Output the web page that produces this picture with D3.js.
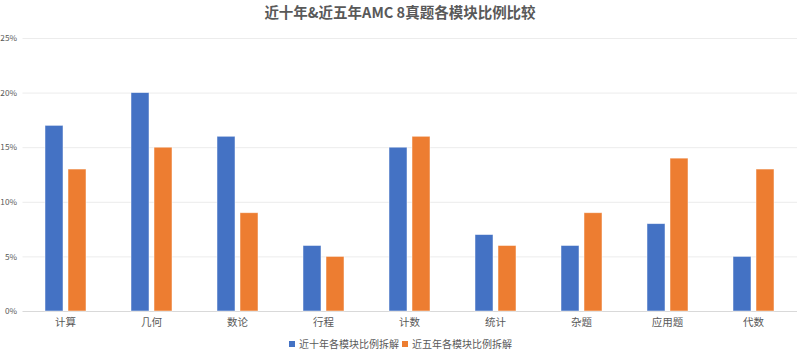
<!DOCTYPE html>
<html>
<head>
<meta charset="utf-8">
<script src="https://cdn.jsdelivr.net/npm/d3@7"></script>
<style>
  html, body { margin: 0; padding: 0; background: #fff; }
  svg { display: block; font-family: "Noto Sans CJK SC", "Noto Sans", sans-serif; }
</style>
</head>
<body>
<svg id="chart" width="800" height="356"></svg>
<script>
const title = "近十年&近五年AMC 8真题各模块比例比较";
const categories = ["计算", "几何", "数论", "行程", "计数", "统计", "杂题", "应用题", "代数"];
const seriesNames = ["近十年各模块比例拆解", "近五年各模块比例拆解"];
const tenYear = [17, 20, 16, 6, 15, 7, 6, 8, 5];
const fiveYear = [13, 15, 9, 5, 16, 6, 9, 14, 13];
const yTicks = [0, 5, 10, 15, 20, 25];
const colors = ["#4472C4", "#ED7D31"];

const svg = d3.select("#chart");
const plotLeft = 22.5, plotRight = 796.5, plotTop = 38, plotBottom = 311;

const y = d3.scaleLinear().domain([0, 25]).range([plotBottom, plotTop]);
const x0 = d3.scaleBand().domain(categories).range([plotLeft, plotRight])
  .paddingInner(45 / 86).paddingOuter(45 / 172);
const x1 = d3.scaleBand().domain(seriesNames).range([0, x0.bandwidth()])
  .paddingInner(2 - 41 / 23).paddingOuter(0);

// title
svg.append("text")
  .attr("x", 400).attr("y", 18)
  .attr("text-anchor", "middle")
  .attr("font-size", 14.5).attr("font-weight", "bold")
  .attr("fill", "#595959")
  .text(title);

// gridlines
const yAxis = d3.axisLeft(y).tickValues(yTicks).tickSize(-(plotRight - plotLeft + 0.5)).tickFormat(d => d + "%");
const gy = svg.append("g").attr("transform", `translate(${plotLeft},0)`).call(yAxis);
gy.select(".domain").remove();
gy.selectAll(".tick line").attr("stroke", d => d === 0 ? "#d9d9d9" : "#ececec").attr("stroke-width", 1);
gy.selectAll(".tick text")
  .attr("x", -5.5).attr("font-size", 8.2).attr("fill", "#595959")
  .attr("font-family", "'Noto Sans CJK SC', 'Noto Sans', sans-serif");

// bars
const data = categories.map((c, i) => ({ cat: c, vals: [tenYear[i], fiveYear[i]] }));
const groups = svg.append("g").selectAll("g").data(data).join("g")
  .attr("transform", d => `translate(${x0(d.cat)},0)`);
groups.selectAll("rect").data(d => d.vals.map((v, j) => ({ name: seriesNames[j], v, j })))
  .join("rect")
  .attr("x", d => x1(d.name))
  .attr("width", x1.bandwidth())
  .attr("y", d => y(d.v))
  .attr("height", d => y(0) - y(d.v))
  .attr("fill", d => colors[d.j])
  .attr("stroke", "#ffffff").attr("stroke-opacity", 0.6).attr("stroke-width", 0.8);

// x axis labels
const xAxis = d3.axisBottom(x0).tickSize(0).tickPadding(8);
const gx = svg.append("g").attr("transform", `translate(0,${plotBottom})`).call(xAxis);
gx.select(".domain").remove();
gx.selectAll(".tick text").attr("font-size", 10.5).attr("fill", "#595959")
  .attr("font-family", "'Noto Sans CJK SC', 'Noto Sans', sans-serif");

// legend
const legendX = [289, 402];
const lg = svg.append("g").selectAll("g").data(seriesNames).join("g")
  .attr("transform", (d, i) => `translate(${legendX[i]},341)`);
lg.append("rect").attr("width", 6).attr("height", 6).attr("fill", (d, i) => colors[i]);
lg.append("text").attr("x", 10).attr("y", 6.5)
  .attr("font-size", 10).attr("fill", "#595959").text(d => d);
</script>
</body>
</html>
